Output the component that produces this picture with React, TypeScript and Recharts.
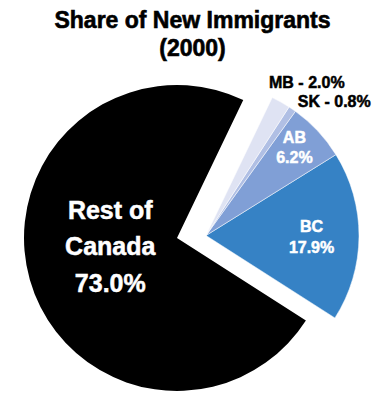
import { PieChart, Pie, Cell } from 'recharts'

// share of new immigrants, 2000
const regions = ['BC', 'AB', 'SK', 'MB', 'Rest of Canada']
const shares = [17.9, 6.2, 0.8, 2.0, 73.0]
const labelText = [['BC', '17.9%'], ['AB', '6.2%'], ['SK - 0.8%'], ['MB - 2.0%'], ['Rest of', 'Canada', '73.0%']]

const colors = ['#3682c5', '#809fd6', '#b0bfe4', '#dfe3f3', '#000000']
// label placement: fraction of radius along mid angle, nudge, anchor, colour, size, line gap
const labelStyle = [
  { f: 0.69, dx: 0, dy: 6, anchor: 'middle', color: '#fff', size: 16, gap: 21 },
  { f: 0.8, dx: -1, dy: 1, anchor: 'middle', color: '#fff', size: 16, gap: 20 },
  { f: 1.03, dx: 3, dy: 2, anchor: 'start', color: '#000', size: 16, gap: 0 },
  { f: 1.07, dx: -17, dy: -5, anchor: 'start', color: '#000', size: 16, gap: 0 },
  { f: 0.45, dx: -0.5, dy: -1.5, anchor: 'middle', color: '#fff', size: 25, gap: 36.5 },
]

const data = regions.map((name, i) => ({ name, value: shares[i], idx: i }))
const REST = regions.length - 1
const START = -32.6

const font = '"Liberation Sans", Arial, sans-serif'

function makeLabel(show: (i: number) => boolean) {
  return (props: any) => {
    const i = props.payload?.idx ?? props.index
    if (!show(i)) return null
    const s = labelStyle[i]
    const rad = (Math.PI / 180) * props.midAngle
    const r = props.outerRadius * s.f
    const x = props.cx + r * Math.cos(rad) + s.dx
    const y = props.cy - r * Math.sin(rad) + s.dy
    const lines = labelText[i]
    return (
      <text key={'l' + i} x={x} y={y} textAnchor={s.anchor} fill={s.color}
        stroke={s.color} strokeWidth={0.5}
        style={{ fontFamily: font, fontWeight: 700, fontSize: s.size }}>
        {lines.map((t, k) => (
          <tspan key={k} x={x} y={y + (k - (lines.length - 1) / 2) * s.gap}>{t}</tspan>
        ))}
      </text>
    )
  }
}

export default function App() {
  return (
    <div style={{ position: 'absolute', left: 0, top: 0, width: 385, height: 393, background: '#fff' }}>
      <PieChart width={385} height={393} margin={{ top: 0, right: 0, bottom: 0, left: 0 }}>
        <Pie data={data} dataKey="value" cx={177} cy={238} outerRadius={153}
          startAngle={START} endAngle={START + 360} stroke="none"
          label={makeLabel((i) => i === REST)} labelLine={false} isAnimationActive={false}>
          {data.map((d, i) => (
            <Cell key={d.name} fill={i === REST ? colors[i] : 'none'} />
          ))}
        </Pie>
        <Pie data={data} dataKey="value" cx={206} cy={235.5} outerRadius={153}
          startAngle={START} endAngle={START + 360} stroke="#fff" strokeWidth={0.5}
          label={makeLabel((i) => i !== REST)} labelLine={false} isAnimationActive={false}>
          {data.map((d, i) => (
            <Cell key={d.name} fill={i === REST ? 'none' : colors[i]} stroke={i === REST ? 'none' : '#fff'} />
          ))}
        </Pie>
      </PieChart>
      <svg width={385} height={393} style={{ position: 'absolute', left: 0, top: 0, pointerEvents: 'none' }}>
        <text x={192.5} textAnchor="middle" stroke="#000" strokeWidth={0.6}
          style={{ fontFamily: font, fontWeight: 700, fontSize: 23 }}>
          <tspan x={192.5} y={28}>Share of New Immigrants</tspan>
          <tspan x={192.5} y={56}>(2000)</tspan>
        </text>
      </svg>
    </div>
  )
}
